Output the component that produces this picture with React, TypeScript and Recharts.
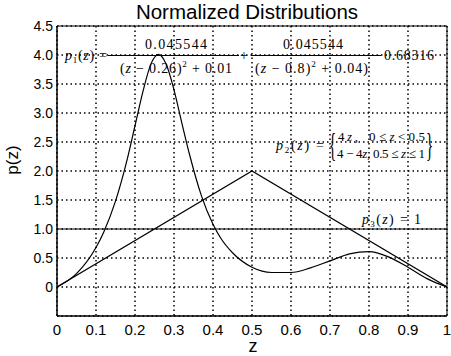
import { CartesianGrid, Line, LineChart, ReferenceArea, XAxis, YAxis } from "recharts";

const W = 451;
const H = 356;

// p1(z): double-peaked curve
const p1Z = [0, 0.05, 0.1, 0.12, 0.15, 0.18, 0.2, 0.22, 0.24, 0.26, 0.28, 0.3, 0.32, 0.34, 0.37, 0.4, 0.42, 0.45, 0.5, 0.55, 0.6, 0.65, 0.7, 0.75, 0.8, 0.85, 0.9, 0.95, 1.0];
const p1Values = [0, 0.23, 0.68, 0.95, 1.48, 2.2, 2.78, 3.36, 3.83, 4.01, 3.84, 3.4, 2.83, 2.28, 1.58, 1.08, 0.84, 0.59, 0.34, 0.25, 0.25, 0.33, 0.45, 0.57, 0.61, 0.52, 0.34, 0.14, 0];

// p2(z): triangle
const p2Z = [0, 0.5, 1];
const p2Values = [0, 2, 0];

// p3(z): uniform
const p3Z = [0, 1];
const p3Values = [1, 1];

const xTicks = [0, 0.1, 0.2, 0.3, 0.4, 0.5, 0.6, 0.7, 0.8, 0.9, 1];
const yTicks = [0, 0.5, 1, 1.5, 2, 2.5, 3, 3.5, 4, 4.5];

const toRows = (zs: number[], vs: number[]) => zs.map((z, i) => ({ z, p: vs[i] }));

const SANS = "'Liberation Sans', Arial, sans-serif";
const SERIF = "'Liberation Serif', 'Times New Roman', serif";

function Annotations() {
  const t = { fontFamily: SERIF, fontSize: 14, fill: "#000", lengthAdjust: "spacing" } as const;
  const sub = { fontSize: 9, dy: 3 };
  return (
    <svg width={W} height={H} style={{ position: "absolute", left: 0, top: 0, pointerEvents: "none" }}>
      <text x={247} y={19} textAnchor="middle" fontFamily={SANS} fontSize={20.5} fill="#000">
        Normalized Distributions
      </text>
      <text x={0} y={0} transform="translate(18,160) rotate(-90)" textAnchor="middle" fontFamily={SANS} fontSize={17} fill="#000">
        p(z)
      </text>
      <text x={253} y={352} textAnchor="middle" fontFamily={SANS} fontSize={18} fill="#000">
        z
      </text>

      {/* p1 */}
      <text x={65} y={60} textLength={42} {...t}>
        <tspan fontStyle="italic">p</tspan>
        <tspan {...sub}>1</tspan>
        <tspan dy={-3}>(</tspan>
        <tspan fontStyle="italic">z</tspan>
        <tspan>) =</tspan>
      </text>
      <text x={145} y={49} textLength={62} {...t}>0.045544</text>
      <line x1={108} x2={239} y1={55.5} y2={55.5} stroke="#000" strokeWidth={1} />
      <text x={120} y={73} textLength={112} {...t}>
        (<tspan fontStyle="italic">z</tspan> − 0.26)<tspan fontSize={9} dy={-6}>2</tspan><tspan dy={6}> + 0.01</tspan>
      </text>
      <text x={240} y={60} {...t}>+</text>
      <text x={283} y={49} textLength={60} {...t}>0.045544</text>
      <line x1={251} x2={381} y1={55.5} y2={55.5} stroke="#000" strokeWidth={1} />
      <text x={255} y={73} textLength={113} {...t}>
        (<tspan fontStyle="italic">z</tspan> − 0.8)<tspan fontSize={9} dy={-6}>2</tspan><tspan dy={6}> + 0.04)</tspan>
      </text>
      <text x={384} y={60} textLength={50} {...t}>0.68316</text>

      {/* p2 */}
      <text x={276} y={150} textLength={48} {...t}>
        <tspan fontStyle="italic">p</tspan>
        <tspan {...sub}>2</tspan>
        <tspan dy={-3}>(</tspan>
        <tspan fontStyle="italic">z</tspan>
        <tspan>) =</tspan>
      </text>
      <text transform="translate(329,156) scale(1,2.3)" fontFamily={SERIF} fontSize={15} fill="#000">{"{"}</text>
      <text x={338} y={141} textLength={20} {...t} fontSize={13}>
        4<tspan fontStyle="italic">z</tspan>,
      </text>
      <text x={369} y={141} textLength={56} {...t} fontSize={13}>
        0 ≤ <tspan fontStyle="italic">z</tspan> &lt; 0.5
      </text>
      <text x={337} y={158} textLength={88} {...t} fontSize={13}>
        4 − 4<tspan fontStyle="italic">z</tspan>, 0.5 ≤ <tspan fontStyle="italic">z</tspan> ≤ 1
      </text>
      <text transform="translate(426,156) scale(1,2.3)" fontFamily={SERIF} fontSize={15} fill="#000">{"}"}</text>

      {/* p3 */}
      <text x={362} y={224} textLength={59} {...t}>
        <tspan fontStyle="italic">p</tspan>
        <tspan {...sub}>3</tspan>
        <tspan dy={-3}>(</tspan>
        <tspan fontStyle="italic">z</tspan>
        <tspan>) = 1</tspan>
      </text>
    </svg>
  );
}

export default function App() {
  return (
    <div style={{ position: "absolute", left: 0, top: 0, width: W, height: H, background: "#fff" }}>
      <LineChart width={W} height={H} margin={{ top: 26, right: 4, bottom: 0, left: 0 }}>
        <CartesianGrid stroke="#000" strokeWidth={1.5} strokeDasharray="1.5 3" />
        <XAxis
          type="number"
          dataKey="z"
          domain={[0, 1]}
          ticks={xTicks}
          allowDataOverflow
          height={40}
          tickLine={false}
          axisLine={{ stroke: "#000" }}
          tick={{ fontSize: 15, fill: "#000", fontFamily: SANS }}
          tickFormatter={(v: number) => (v === 0 || v === 1 ? String(v) : v.toFixed(1))}
        />
        <YAxis
          type="number"
          domain={[-0.5, 4.5]}
          ticks={yTicks}
          allowDataOverflow
          width={57}
          tickLine={false}
          tickSize={2}
          axisLine={{ stroke: "#000" }}
          tick={{ fontSize: 14, fill: "#000", fontFamily: SANS }}
          tickFormatter={(v: number) => (v === 0 ? "0" : v.toFixed(1))}
        />
        <ReferenceArea x1={0} x2={1} y1={-0.5} y2={4.5} fill="none" stroke="#000" strokeWidth={1} />
        <Line data={toRows(p3Z, p3Values)} dataKey="p" type="linear" stroke="#000" strokeWidth={1.2} dot={false} isAnimationActive={false} />
        <Line data={toRows(p2Z, p2Values)} dataKey="p" type="linear" stroke="#000" strokeWidth={1.2} dot={false} isAnimationActive={false} />
        <Line data={toRows(p1Z, p1Values)} dataKey="p" type="monotone" stroke="#000" strokeWidth={1.2} dot={false} isAnimationActive={false} />
      </LineChart>
      <Annotations />
    </div>
  );
}
